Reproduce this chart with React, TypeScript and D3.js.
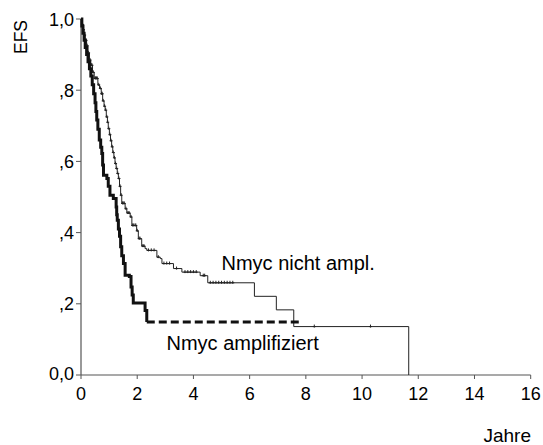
import React from "react";
import * as d3 from "d3";

// Kaplan-Meier step data: [time in years, survival after step]
const nichtAmplTimes = [0, 0.03, 0.07, 0.11, 0.15, 0.2, 0.25, 0.3, 0.35, 0.41, 0.47, 0.6, 0.66, 0.72, 0.77, 0.82, 0.86, 0.9, 0.94, 0.97, 1.01, 1.05, 1.09, 1.13, 1.17, 1.21, 1.25, 1.29, 1.33, 1.37, 1.41, 1.45, 1.57, 1.63, 1.75, 1.81, 1.98, 2.04, 2.16, 2.28, 2.34, 2.7, 2.82, 2.88, 3.29, 3.59, 4.24, 4.51, 6.17, 6.95, 7.57, 11.66];
const nichtAmplSurv = [1, 0.985, 0.97, 0.955, 0.94, 0.925, 0.905, 0.885, 0.87, 0.85, 0.833, 0.815, 0.805, 0.79, 0.77, 0.755, 0.744, 0.725, 0.71, 0.692, 0.675, 0.658, 0.641, 0.625, 0.61, 0.594, 0.58, 0.566, 0.552, 0.53, 0.505, 0.482, 0.467, 0.455, 0.444, 0.42, 0.405, 0.383, 0.362, 0.355, 0.35, 0.331, 0.327, 0.313, 0.299, 0.289, 0.279, 0.259, 0.221, 0.183, 0.136, 0];
const nichtAmplCensor = [0.05, 0.09, 0.13, 0.18, 0.22, 0.27, 0.32, 0.37, 0.39, 0.44, 0.5, 0.52, 0.55, 0.58, 0.63, 0.69, 0.74, 0.75, 0.79, 0.84, 0.88, 0.92, 0.95, 0.99, 1.03, 1.07, 1.11, 1.15, 1.19, 1.23, 1.27, 1.31, 1.35, 1.39, 1.43, 1.48, 1.5, 1.54, 1.6, 1.67, 1.71, 1.78, 1.84, 1.86, 1.92, 1.95, 2.0, 2.07, 2.1, 2.2, 2.24, 2.4, 2.5, 2.6, 2.75, 2.95, 3.05, 3.15, 3.4, 3.7, 3.8, 3.9, 4.0, 4.1, 4.35, 4.4, 4.6, 4.7, 4.8, 4.9, 5.0, 5.1, 5.2, 5.3, 5.4, 8.3, 10.3];
const nichtAmplEnd = 11.66;

const amplTimes = [0, 0.03, 0.07, 0.11, 0.15, 0.2, 0.25, 0.3, 0.35, 0.4, 0.45, 0.5, 0.53, 0.56, 0.6, 0.65, 0.7, 0.74, 0.77, 0.8, 0.92, 0.97, 1.03, 1.15, 1.25, 1.27, 1.29, 1.33, 1.37, 1.41, 1.45, 1.51, 1.57, 1.72, 1.78, 1.82, 1.86, 2.28, 2.34];
const amplSurv = [1, 0.98, 0.96, 0.94, 0.92, 0.9, 0.88, 0.86, 0.84, 0.815, 0.79, 0.765, 0.74, 0.716, 0.69, 0.66, 0.64, 0.622, 0.59, 0.561, 0.552, 0.53, 0.505, 0.496, 0.472, 0.45, 0.435, 0.41, 0.39, 0.36, 0.335, 0.313, 0.28, 0.277, 0.247, 0.225, 0.202, 0.181, 0.149];
const amplDashedEnd = 7.8;

const xTicks = [0, 2, 4, 6, 8, 10, 12, 14, 16];
const yTicks = [0, 0.2, 0.4, 0.6, 0.8, 1.0];
const yTickLabels = ["0,0", ",2", ",4", ",6", ",8", "1,0"];

const labelNicht = "Nmyc nicht ampl.";
const labelAmpl = "Nmyc amplifiziert";

const FONT = "'Liberation Sans', Arial, sans-serif";

function stepPath(x: d3.ScaleLinear<number, number>, y: d3.ScaleLinear<number, number>, times: number[], surv: number[]) {
  let d = `M${x(times[0])},${y(surv[0])}`;
  for (let i = 1; i < times.length; i++) {
    d += `H${x(times[i])}V${y(surv[i])}`;
  }
  return d;
}

function survAt(times: number[], surv: number[], t: number) {
  let s = surv[0];
  for (let i = 0; i < times.length; i++) {
    if (times[i] <= t) s = surv[i];
  }
  return s;
}

export default function App() {
  const x = d3.scaleLinear().domain([0, 16]).range([81, 530.7]);
  const y = d3.scaleLinear().domain([0, 1]).range([375, 19]);

  const thinD = stepPath(x, y, nichtAmplTimes, nichtAmplSurv);
  const thickD = stepPath(x, y, amplTimes, amplSurv);
  const lastA = amplSurv[amplSurv.length - 1];
  const lastAT = amplTimes[amplTimes.length - 1];

  return (
    <svg width={543} height={445} style={{ position: "absolute", left: 0, top: 0, background: "#fff" }}>
      <rect x={0} y={0} width={543} height={445} fill="#fff" />
      {/* axes */}
      <line x1={x(0)} x2={x(16)} y1={y(0)} y2={y(0)} stroke="#555" strokeWidth={1.2} />
      <line x1={x(0)} x2={x(0)} y1={y(0)} y2={y(1)} stroke="#555" strokeWidth={1.2} />
      {xTicks.map((t) => (
        <g key={"xt" + t}>
          <line x1={x(t)} x2={x(t)} y1={y(0)} y2={y(0) + 4} stroke="#555" strokeWidth={1} />
          <text x={x(t)} y={399.5} textAnchor="middle" fontFamily={FONT} fontSize={18} fill="#000">{t}</text>
        </g>
      ))}
      {yTicks.map((v, i) => (
        <g key={"yt" + v}>
          <line x1={x(0) - 5} x2={x(0)} y1={y(v)} y2={y(v)} stroke="#555" strokeWidth={1} />
          <text x={74} y={y(v) + 6.5 - (i === 0 ? 2 : 0)} textAnchor="end" fontFamily={FONT} fontSize={18} fill="#000">{yTickLabels[i]}</text>
        </g>
      ))}
      <text transform="translate(26.5,37) rotate(-90)" textAnchor="middle" fontFamily={FONT} fontSize={17.5} fill="#000">EFS</text>
      <text x={531} y={442} textAnchor="end" fontFamily={FONT} fontSize={19} fill="#000">Jahre</text>

      {/* nicht ampl. curve */}
      <path d={thinD} fill="none" stroke="#222" strokeWidth={1} />
      {nichtAmplCensor.map((t, i) => {
        const s = survAt(nichtAmplTimes, nichtAmplSurv, t);
        return (
          <g key={"c" + i}>
            <line x1={x(t)} x2={x(t)} y1={y(s) - 2} y2={y(s) + 1} stroke="#222" strokeWidth={1} />
            <line x1={x(t) - 1.5} x2={x(t) + 1.5} y1={y(s)} y2={y(s)} stroke="#222" strokeWidth={1} />
          </g>
        );
      })}

      {/* amplifiziert curve */}
      <path d={thickD} fill="none" stroke="#111" strokeWidth={3} strokeLinejoin="miter" />
      <line x1={x(lastAT)} x2={x(amplDashedEnd)} y1={y(lastA)} y2={y(lastA)} stroke="#111" strokeWidth={3} strokeDasharray="8,4" />

      <text x={221.5} y={269.5} fontFamily={FONT} fontSize={20} fill="#000">{labelNicht}</text>
      <text x={166.5} y={349.5} fontFamily={FONT} fontSize={20} fill="#000">{labelAmpl}</text>
    </svg>
  );
}
